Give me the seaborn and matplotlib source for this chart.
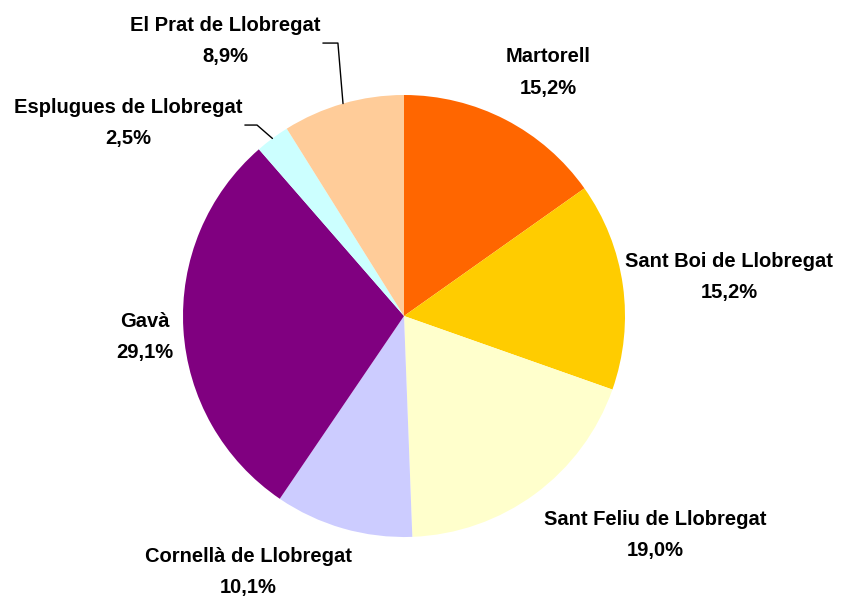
import numpy as np
import matplotlib
matplotlib.use("Agg")
import matplotlib.pyplot as plt
import seaborn as sns

# dades del grafic (sentit horari des de dalt)
municipis = ["Martorell", "Sant Boi de Llobregat", "Sant Feliu de Llobregat",
             "Cornellà de Llobregat", "Gavà", "Esplugues de Llobregat",
             "El Prat de Llobregat"]
percentatges = [15.2, 15.2, 19.0, 10.1, 29.1, 2.5, 8.9]
colors = ["#FF6600", "#FFCC00", "#FFFFCC", "#CCCCFF", "#800080", "#CCFFFF", "#FFCC99"]

# posicio de les etiquetes (en unitats de radi)
pos_etiquetes = [(0.652, 1.103), (1.471, 0.176), (1.136, -0.991), (-0.706, -1.158),
                 (-1.172, -0.095), (-1.249, 0.873), (-0.81, 1.244)]
# linies guia: (colze, final) per a les etiquetes petites
guies = {5: ((-0.665, 0.864), (-0.72, 0.864)),
         6: ((-0.299, 1.235), (-0.367, 1.235))}

sns.set_theme(style="white")
plt.rcParams["font.family"] = ["Liberation Sans", "DejaVu Sans"]

fig = plt.figure(figsize=(8.48, 6.02), dpi=100)
ax = fig.add_axes([0, 0, 1, 1])
ax.axis("off")

wedges, _ = ax.pie(percentatges, colors=sns.color_palette(colors), startangle=90,
                   counterclock=False, radius=1, center=(0, 0),
                   wedgeprops=dict(linewidth=0))

for i, w in enumerate(wedges):
    x, y = pos_etiquetes[i]
    txt = f"{municipis[i]}\n{percentatges[i]:.1f}%".replace(".", ",")
    ax.text(x, y, txt, ha="center", va="center", fontsize=14.5, fontweight="bold",
            color="black", linespacing=1.85)
    if i in guies:
        ang = np.deg2rad((w.theta1 + w.theta2) / 2)
        ex, ey = np.cos(ang), np.sin(ang)
        (cx, cy), (fx, fy) = guies[i]
        ax.plot([ex, cx, fx], [ey, cy, fy], color="black", lw=1)

ax.set_xlim(-404 / 221, 444 / 221)
ax.set_ylim(-286 / 221, 316 / 221)
ax.set_aspect("equal")

fig.savefig("out.png", dpi=100)
